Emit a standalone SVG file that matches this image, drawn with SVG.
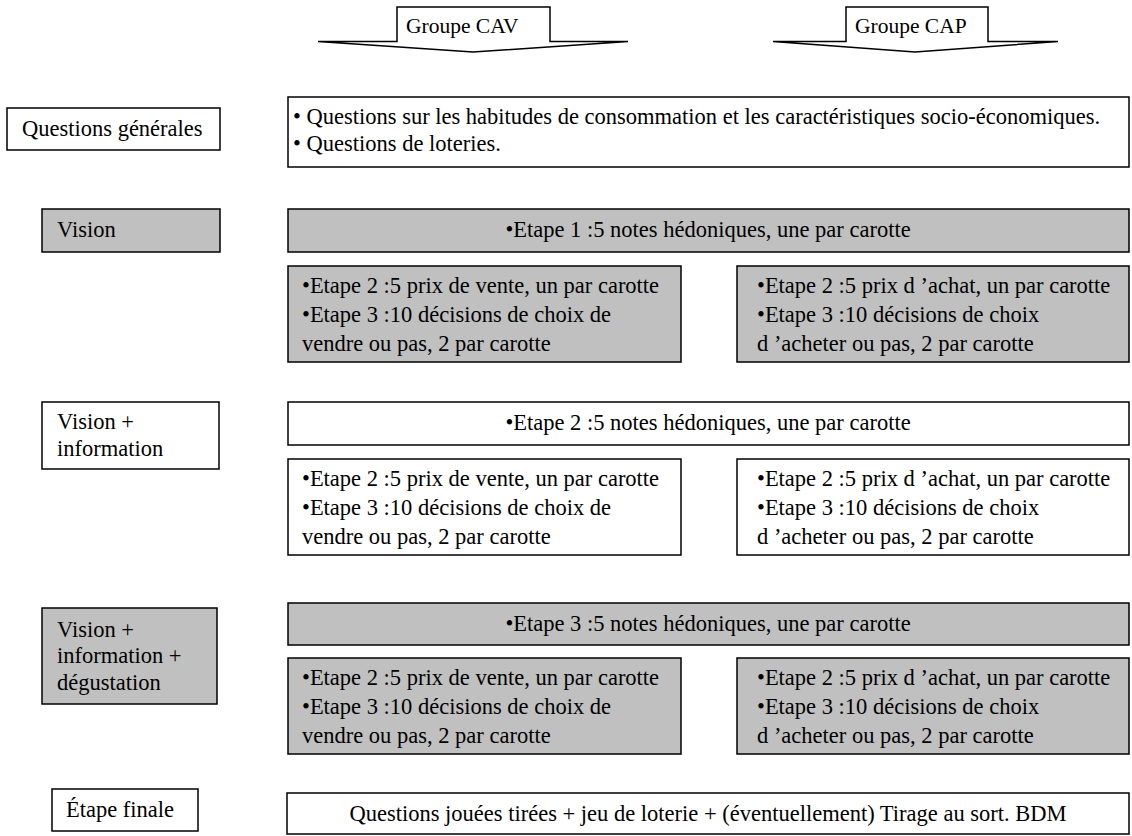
<svg xmlns="http://www.w3.org/2000/svg" width="1132" height="836" viewBox="0 0 1132 836" font-family="'Liberation Serif', 'Times New Roman', serif" font-size="22.5">
<style>
text{font-family:'Liberation Serif','Times New Roman',serif;font-size:22.5px;fill:#000}
.w{fill:#fff;stroke:#000;stroke-width:1.5}
.g{fill:#c0c0c0;stroke:#000;stroke-width:1.5}
.c{text-anchor:middle}
.t{font-size:21.5px}
</style>
<rect width="1132" height="836" fill="#fff"/>
<g id="arrow-cav">
<path class="w" d="M318,41.5 L397,41.5 L397,7 L550,7 L550,41.5 L628,41.5 L473,52 Z"/>
<text class="t" x="406" y="33" font-family="Liberation Serif">Groupe CAV</text>
</g>
<g id="arrow-cap">
<path class="w" d="M773,41.5 L846,41.5 L846,7 L988,7 L988,41.5 L1058,41.5 L915,52 Z"/>
<text class="t" x="855" y="33" font-family="Liberation Serif">Groupe CAP</text>
</g>
<g id="questions-generales">
<rect class="w" x="7" y="108" width="213" height="42"/>
<text x="22" y="136" font-family="Liberation Serif">Questions générales</text>
</g>
<g id="questions-box">
<rect class="w" x="288" y="97" width="841" height="70"/>
<text x="293" y="124" font-family="Liberation Serif">• Questions sur les habitudes de consommation et les caractéristiques socio-économiques.</text>
<text x="293" y="151" font-family="Liberation Serif">• Questions de loteries.</text>
</g>
<g id="vision">
<rect class="g" x="42" y="209" width="178" height="43"/>
<text x="57" y="237" font-family="Liberation Serif">Vision</text>
</g>
<g id="etape1">
<rect class="g" x="288" y="209" width="841" height="43"/>
<text class="c" x="708" y="237" font-family="Liberation Serif">•Etape 1 :5 notes hédoniques, une par carotte</text>
</g>
<g id="vision-cav">
<rect class="g" x="288" y="266" width="393" height="96"/>
<text x="302" y="293" font-family="Liberation Serif">•Etape 2 :5 prix de vente, un par carotte</text>
<text x="302" y="322" font-family="Liberation Serif">•Etape 3 :10 décisions de choix de</text>
<text x="302" y="351" font-family="Liberation Serif">vendre ou pas, 2 par carotte</text>
</g>
<g id="vision-cap">
<rect class="g" x="737" y="266" width="392" height="96"/>
<text x="757" y="293" font-family="Liberation Serif">•Etape 2 :5 prix d ’achat, un par carotte</text>
<text x="757" y="322" font-family="Liberation Serif">•Etape 3 :10 décisions de choix</text>
<text x="757" y="351" font-family="Liberation Serif">d ’acheter ou pas, 2 par carotte</text>
</g>
<g id="vision-info">
<rect class="w" x="42" y="402" width="177" height="67"/>
<text x="57" y="429" font-family="Liberation Serif">Vision +</text>
<text x="57" y="456" font-family="Liberation Serif">information</text>
</g>
<g id="etape2">
<rect class="w" x="288" y="402" width="841" height="43"/>
<text class="c" x="708" y="430" font-family="Liberation Serif">•Etape 2 :5 notes hédoniques, une par carotte</text>
</g>
<g id="info-cav">
<rect class="w" x="288" y="459" width="393" height="96"/>
<text x="302" y="486" font-family="Liberation Serif">•Etape 2 :5 prix de vente, un par carotte</text>
<text x="302" y="515" font-family="Liberation Serif">•Etape 3 :10 décisions de choix de</text>
<text x="302" y="544" font-family="Liberation Serif">vendre ou pas, 2 par carotte</text>
</g>
<g id="info-cap">
<rect class="w" x="737" y="459" width="392" height="96"/>
<text x="757" y="486" font-family="Liberation Serif">•Etape 2 :5 prix d ’achat, un par carotte</text>
<text x="757" y="515" font-family="Liberation Serif">•Etape 3 :10 décisions de choix</text>
<text x="757" y="544" font-family="Liberation Serif">d ’acheter ou pas, 2 par carotte</text>
</g>
<g id="vision-info-degust">
<rect class="g" x="42" y="608" width="175" height="96"/>
<text x="57" y="637" font-family="Liberation Serif">Vision +</text>
<text x="57" y="663" font-family="Liberation Serif">information +</text>
<text x="57" y="690" font-family="Liberation Serif">dégustation</text>
</g>
<g id="etape3">
<rect class="g" x="288" y="603" width="841" height="42"/>
<text class="c" x="708" y="631" font-family="Liberation Serif">•Etape 3 :5 notes hédoniques, une par carotte</text>
</g>
<g id="degust-cav">
<rect class="g" x="288" y="658" width="393" height="96"/>
<text x="302" y="685" font-family="Liberation Serif">•Etape 2 :5 prix de vente, un par carotte</text>
<text x="302" y="714" font-family="Liberation Serif">•Etape 3 :10 décisions de choix de</text>
<text x="302" y="743" font-family="Liberation Serif">vendre ou pas, 2 par carotte</text>
</g>
<g id="degust-cap">
<rect class="g" x="737" y="658" width="392" height="96"/>
<text x="757" y="685" font-family="Liberation Serif">•Etape 2 :5 prix d ’achat, un par carotte</text>
<text x="757" y="714" font-family="Liberation Serif">•Etape 3 :10 décisions de choix</text>
<text x="757" y="743" font-family="Liberation Serif">d ’acheter ou pas, 2 par carotte</text>
</g>
<g id="etape-finale">
<rect class="w" x="52" y="789" width="146" height="42"/>
<text x="66" y="817" font-family="Liberation Serif">Étape finale</text>
</g>
<g id="final-box">
<rect class="w" x="287" y="793" width="842" height="41"/>
<text class="c" x="708" y="821" font-family="Liberation Serif">Questions jouées tirées + jeu de loterie + (éventuellement) Tirage au sort. BDM</text>
</g>
<g id="connectors"></g>
</svg>
